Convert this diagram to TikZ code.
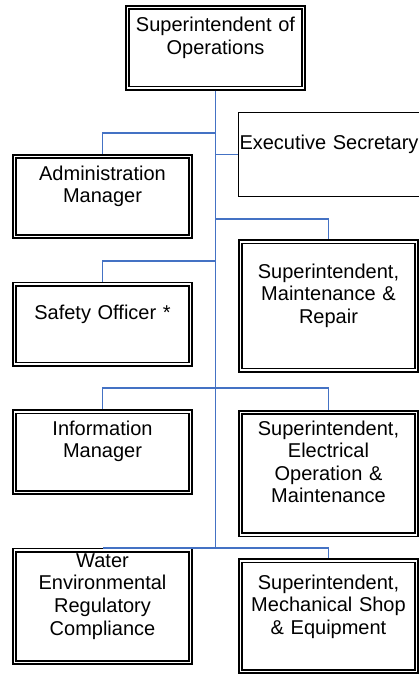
\documentclass[tikz,border=0pt]{standalone}
\usepackage{fontspec}
\setmainfont{Liberation Sans}
\definecolor{linkblue}{RGB}{68,114,196}

\begin{document}
\begin{tikzpicture}[
    x=1pt, y=-1pt,
    font=\fontsize{20pt}{22.6pt}\selectfont,
    post/.style={draw, double, line width=1.6pt, double distance=1.9pt, anchor=north,
                 outer sep=0pt, inner xsep=3pt, inner ysep=0pt, text width=170pt,
                 align=center},
    plain/.style={draw, line width=1.6pt, anchor=north, outer sep=0pt, inner sep=0pt,
                  text width=181pt, align=center},
    link/.style={draw=linkblue, line width=1.7pt, shorten >=2.5pt}
]
\useasboundingbox (0,0) rectangle (419,675);

\node[post, text height=24.2pt, text depth=56.5pt] (supt) at (215.5,7.5) {Superintendent of\\Operations};

\node[post, text height=23.5pt, text depth=56.5pt] (admin) at (102.5,156.5) {Administration\\Manager};
\node[plain, text height=36.5pt, text depth=47.5pt] (exec) at (329,112.6) {Executive Secretary};
\node[post, text height=36.5pt, text depth=91.9pt] (maint) at (328.5,241.8) {Superintendent,\\Maintenance \&\\Repair};
\node[post, text height=35pt, text depth=45pt] (safety) at (102.5,284.2) {Safety Officer *};
\node[post, text height=23.2pt, text depth=57.5pt] (info) at (102.5,411.8) {Information\\Manager};
\node[post, text height=22.5pt, text depth=99.8pt] (elec) at (328.5,412.5) {Superintendent,\\Electrical\\Operation \&\\Maintenance};
\node[post, text height=17pt, text depth=95.3pt] (water) at (102.5,550.2) {Water\\Environmental\\Regulatory\\Compliance};
\node[post, text height=28.3pt, text depth=82.4pt] (mech) at (328.5,560.8) {Superintendent,\\Mechanical Shop\\\& Equipment};

% branch points on the trunk
\coordinate (j1) at (215.5,133.3);
\coordinate (j2) at (supt.south |- exec.west);
\coordinate (j3) at (215.5,219);
\coordinate (j4) at (215.5,261);
\coordinate (j5) at (215.5,388.3);
\coordinate (j6) at (215.5,547.7);

\draw[link, shorten >=0pt, shorten <=2.5pt] (supt.south) -- (j6);
\draw[link] (j1) -| (admin.north);
\draw[link, shorten >=0.8pt] (j2) -- (exec.west);
\draw[link] (j3) -| (maint.north);
\draw[link] (j4) -| (safety.north);
\draw[link] (j5) -| (info.north);
\draw[link] (j5) -| (elec.north);
\draw[link, shorten >=0pt] (j6) -- (j6 -| water.north);
\draw[link] (j6) -| (mech.north);

\end{tikzpicture}
\end{document}
